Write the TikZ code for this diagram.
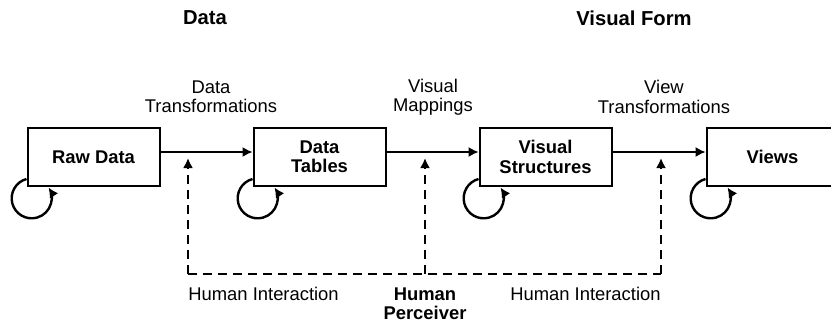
\documentclass[tikz,border=0pt]{standalone}
\usepackage{fontspec}
\setmainfont{Liberation Sans}
\usetikzlibrary{arrows.meta,positioning}
\begin{document}
\fontsize{9.2}{9.6}\selectfont
\begin{tikzpicture}[
    x=0.5pt, y=0.5pt,
    box/.style={rectangle, draw, line width=1pt, minimum width=66pt, minimum height=29pt, inner sep=0pt, align=center, font=\bfseries},
    flow/.style={->, line width=0.7pt},
    loopy/.style={->, line width=1.2pt},
    human/.style={dash pattern=on 4.5pt off 3pt, line width=1pt},
    note/.style={align=center, inner sep=0pt},
    head/.style={inner sep=0pt, font=\fontsize{10.1}{12}\selectfont\bfseries},
    >={Latex[length=5pt,width=5pt]}
]
\useasboundingbox (0,0) rectangle (831,323);
\clip (0,0) rectangle (831,323);

\node[box] (raw) at (93.5,166) {Raw Data};
\node[box] (tables) at (319.5,166) {Data\\Tables};
\node[box] (structs) at (545.5,166) {Visual\\Structures};
\node[box] (views) at (772.5,166) {Views};

\node[head] (datahead) at (205,305) {Data};
\node[head] (formhead) at (634,305) {Visual Form};

\node[note] (datatrans) at (211,226) {Data\\Transformations};
\node[note] (vismap) at (433,226) {Visual\\Mappings};
\node[note] (viewtrans) at (664,226) {View\\Transformations};

\draw[flow] ([yshift=2.5pt]raw.east) -- ([yshift=2.5pt]tables.west);
\draw[flow] ([yshift=2.5pt]tables.east) -- ([yshift=2.5pt]structs.west);
\draw[flow] ([yshift=2.5pt]structs.east) -- ([yshift=2.5pt]views.west);

% self loops under each box
\foreach \n in {raw,tables,structs,views}
    \draw[loopy] ([yshift=4pt]\n.south west) arc[start angle=105, end angle=393, radius=10pt];

% human interaction
\coordinate (baseA) at (188,49);
\coordinate (baseB) at (425,49);
\coordinate (baseC) at (661,49);
\coordinate (tipA) at (188,165);
\coordinate (tipB) at (425,165);
\coordinate (tipC) at (661,165);
\draw[human] (baseA) -- (baseC);
\draw[human,->] (baseA) -- (tipA);
\draw[human,->] (baseB) -- (tipB);
\draw[human,->] (baseC) -- (tipC);

\node[note, below right=6.5pt and 0pt of baseA] (hileft) {Human Interaction};
\node[note, below left=6.5pt and 0pt of baseC] (hiright) {Human Interaction};
\node[note, below=6.5pt of baseB, font=\bfseries] (perceiver) {Human\\Perceiver};
\end{tikzpicture}
\end{document}
